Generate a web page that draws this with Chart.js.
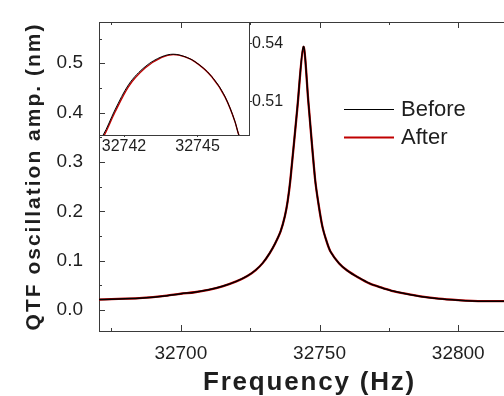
<!DOCTYPE html>
<html lang="en">
<head>
<meta charset="UTF-8">
<title>QTF resonance - before / after</title>
<script src="https://cdn.jsdelivr.net/npm/chart.js"></script>
<style>
  html, body { margin: 0; padding: 0; background: #fff; }
  #wrap { position: relative; width: 504px; height: 396px; overflow: hidden; }
  #main { position: absolute; left: 0; top: 0; }
  #inset { position: absolute; left: 99px; top: 22px; }
</style>
</head>
<body>
<div id="wrap">
  <canvas id="main" width="504" height="396"></canvas>
  <canvas id="inset" width="196" height="133"></canvas>
</div>
<script>
// main sweep (Hz, nm)
const freq = [32670, 32675, 32680, 32685, 32690, 32695, 32700, 32705, 32710, 32715,
  32720, 32724, 32727, 32729.5, 32732, 32734, 32736, 32737.5, 32738.5, 32739.5,
  32742, 32744.2, 32746, 32748.4, 32749.6, 32751, 32752.5, 32754, 32757, 32760,
  32764, 32768, 32772, 32776, 32781, 32787, 32793, 32800, 32805, 32810, 32817];
const ampBefore = [0.021, 0.022, 0.023, 0.024, 0.026, 0.029, 0.033, 0.036, 0.041, 0.048,
  0.058, 0.069, 0.081, 0.095, 0.115, 0.135, 0.160, 0.190, 0.220, 0.265,
  0.410, 0.534, 0.420, 0.265, 0.216, 0.170, 0.140, 0.118, 0.095, 0.080,
  0.066, 0.054, 0.046, 0.039, 0.033, 0.027, 0.023, 0.020, 0.0185, 0.018, 0.018];
const ampAfter = [0.021, 0.022, 0.023, 0.024, 0.026, 0.029, 0.033, 0.036, 0.041, 0.048,
  0.058, 0.069, 0.081, 0.095, 0.115, 0.135, 0.160, 0.190, 0.220, 0.264,
  0.409, 0.533, 0.420, 0.265, 0.216, 0.170, 0.140, 0.118, 0.095, 0.080,
  0.066, 0.054, 0.046, 0.039, 0.033, 0.027, 0.023, 0.020, 0.0185, 0.018, 0.018];

// fine sweep around the peak (inset)
const insetFreq = [32740.9, 32741.15, 32741.63, 32742.18, 32742.86, 32743.54, 32744.01,
  32744.49, 32744.9, 32745.58, 32746.12, 32746.53, 32746.67, 32746.9];
const insetBefore = [0.489, 0.4927, 0.5057, 0.5187, 0.5281, 0.5333, 0.5346,
  0.5333, 0.5307, 0.5230, 0.5126, 0.4996, 0.4933, 0.486];
const insetAfter = [0.487, 0.4915, 0.5045, 0.5177, 0.5274, 0.5330, 0.5344,
  0.5332, 0.5306, 0.5229, 0.5125, 0.4995, 0.4932, 0.486];

const seriesNames = ['Before', 'After'];
const seriesColors = ['#000000', '#c00000'];

const xTicksMain = [32700, 32750, 32800];
const yTicksMain = [0.0, 0.1, 0.2, 0.3, 0.4, 0.5];

const axisColor = '#3a3a3a';
const textColor = '#1e1e1e';
const fontFamily = '"Liberation Sans", Arial, sans-serif';

Chart.defaults.font.family = fontFamily;
Chart.defaults.color = textColor;

function toXY(xs, ys) {
  return xs.map((x, i) => ({ x: x, y: ys[i] }));
}

// the original titles are set with wide tracking
function spaceTitle(scale, spacing, dx) {
  if (scale._spaced) return;
  const draw = scale.drawTitle;
  scale.drawTitle = function () {
    const ctx = this.ctx;
    ctx.save();
    ctx.letterSpacing = spacing;
    ctx.translate(dx, 0);
    draw.call(this);
    ctx.restore();
  };
  scale._spaced = true;
}

// ticks pointing inward on the main frame + top border
const innerTicks = {
  id: 'innerTicks',
  afterDraw(chart) {
    const { ctx, chartArea: a, scales: { x, y } } = chart;
    ctx.save();
    ctx.strokeStyle = axisColor;
    ctx.lineWidth = 1;
    ctx.beginPath();
    ctx.moveTo(a.left, a.top + 0.5);
    ctx.lineTo(a.right, a.top + 0.5);
    for (let v = 32675; v <= x.max; v += 25) {
      const px = Math.round(x.getPixelForValue(v)) + 0.5;
      const len = v % 50 === 0 ? 6 : 3;
      ctx.moveTo(px, a.bottom);
      ctx.lineTo(px, a.bottom - len);
      ctx.moveTo(px, a.top);
      ctx.lineTo(px, a.top + len);
    }
    for (let i = 0; i * 0.05 <= y.max; i++) {
      const py = Math.round(y.getPixelForValue(i * 0.05)) + 0.5;
      const len = i % 2 === 0 ? 6 : 3;
      ctx.moveTo(a.left, py);
      ctx.lineTo(a.left + len, py);
    }
    ctx.stroke();
    ctx.restore();
  }
};

// legend drawn inside the plot, like the original
const innerLegend = {
  id: 'innerLegend',
  afterDraw(chart) {
    const { ctx } = chart;
    const rows = [109, 137];
    ctx.save();
    ctx.font = '22px ' + fontFamily;
    ctx.textBaseline = 'middle';
    ctx.fillStyle = textColor;
    chart.data.datasets.forEach((ds, i) => {
      ctx.strokeStyle = ds.borderColor;
      ctx.lineWidth = i === 0 ? 1 : 2;
      ctx.beginPath();
      ctx.moveTo(344, rows[i] + 0.5);
      ctx.lineTo(394, rows[i] + 0.5);
      ctx.stroke();
      ctx.fillText(ds.label, 401, rows[i] + 1);
    });
    ctx.restore();
  }
};

new Chart(document.getElementById('main'), {
  type: 'line',
  data: {
    datasets: [
      {
        label: seriesNames[0],
        data: toXY(freq, ampBefore),
        borderColor: seriesColors[0],
        borderWidth: 1.5,
        pointRadius: 0,
        tension: 0.3,
        clip: 0
      },
      {
        label: seriesNames[1],
        data: toXY(freq, ampAfter),
        borderColor: seriesColors[1],
        borderWidth: 2.3,
        pointRadius: 0,
        tension: 0.3,
        clip: 0
      }
    ]
  },
  options: {
    responsive: false,
    animation: false,
    layout: { padding: { top: 22, left: 0, right: 0, bottom: 0 } },
    plugins: { legend: { display: false }, tooltip: { enabled: false } },
    scales: {
      x: {
        type: 'linear',
        min: 32670.5,
        max: 32816.5,
        afterBuildTicks: s => { s.ticks = xTicksMain.map(v => ({ value: v })); },
        ticks: {
          callback: v => String(v),
          font: { size: 19 },
          color: textColor,
          padding: 3,
          maxRotation: 0
        },
        grid: { display: false },
        border: { display: true, color: axisColor, width: 1 },
        title: {
          display: true,
          text: 'Frequency (Hz)',
          font: { size: 26, weight: 'bold', lineHeight: 1 },
          color: textColor,
          padding: { top: 0, bottom: 0 }
        },
        afterFit: s => {
          s.height = 65; s.paddingLeft = 0; s.paddingRight = 0;
          spaceTitle(s, '1.8px', 8);
        }
      },
      y: {
        type: 'linear',
        min: -0.0425,
        max: 0.5836,
        afterBuildTicks: s => { s.ticks = yTicksMain.map(v => ({ value: v })); },
        ticks: {
          callback: v => v.toFixed(1),
          font: { size: 19 },
          color: textColor,
          padding: 8
        },
        grid: { display: false },
        border: { display: true, color: axisColor, width: 1 },
        title: {
          display: true,
          text: 'QTF oscillation amp. (nm)',
          font: { size: 21, weight: 'bold', lineHeight: 1 },
          color: textColor,
          padding: { top: 24, bottom: 0 }
        },
        afterFit: s => {
          s.width = 99; s.paddingTop = 0; s.paddingBottom = 0;
          spaceTitle(s, '2px', 0);
        }
      }
    }
  },
  plugins: [innerTicks, innerLegend]
});

new Chart(document.getElementById('inset'), {
  type: 'line',
  data: {
    datasets: [
      {
        label: seriesNames[0],
        data: toXY(insetFreq, insetBefore),
        borderColor: seriesColors[0],
        borderWidth: 1,
        pointRadius: 0,
        cubicInterpolationMode: 'monotone',
        clip: 0
      },
      {
        label: seriesNames[1],
        data: toXY(insetFreq, insetAfter),
        borderColor: seriesColors[1],
        borderWidth: 1.4,
        pointRadius: 0,
        cubicInterpolationMode: 'monotone',
        clip: 0
      }
    ]
  },
  options: {
    responsive: false,
    animation: false,
    layout: { padding: 0 },
    plugins: { legend: { display: false }, tooltip: { enabled: false } },
    scales: {
      x: {
        type: 'linear',
        min: 32740.98,
        max: 32747.1,
        ticks: {
          stepSize: 3,
          includeBounds: false,
          callback: v => String(v),
          font: { size: 16 },
          color: textColor,
          padding: 0,
          maxRotation: 0
        },
        grid: { display: true, drawOnChartArea: false, drawTicks: true, tickLength: 2, color: axisColor },
        border: { display: true, color: axisColor, width: 1 },
        afterFit: s => { s.height = 20; s.paddingLeft = 0; s.paddingRight = 0; }
      },
      y: {
        type: 'linear',
        position: 'right',
        min: 0.4927,
        max: 0.5513,
        ticks: {
          stepSize: 0.03,
          includeBounds: false,
          callback: v => v.toFixed(2),
          font: { size: 16 },
          color: textColor,
          padding: 0
        },
        grid: { display: true, drawOnChartArea: false, drawTicks: true, tickLength: 3, color: axisColor },
        border: { display: true, color: axisColor, width: 1 },
        afterFit: s => { s.width = 46; s.paddingTop = 0; s.paddingBottom = 0; }
      }
    }
  }
});
</script>
</body>
</html>
